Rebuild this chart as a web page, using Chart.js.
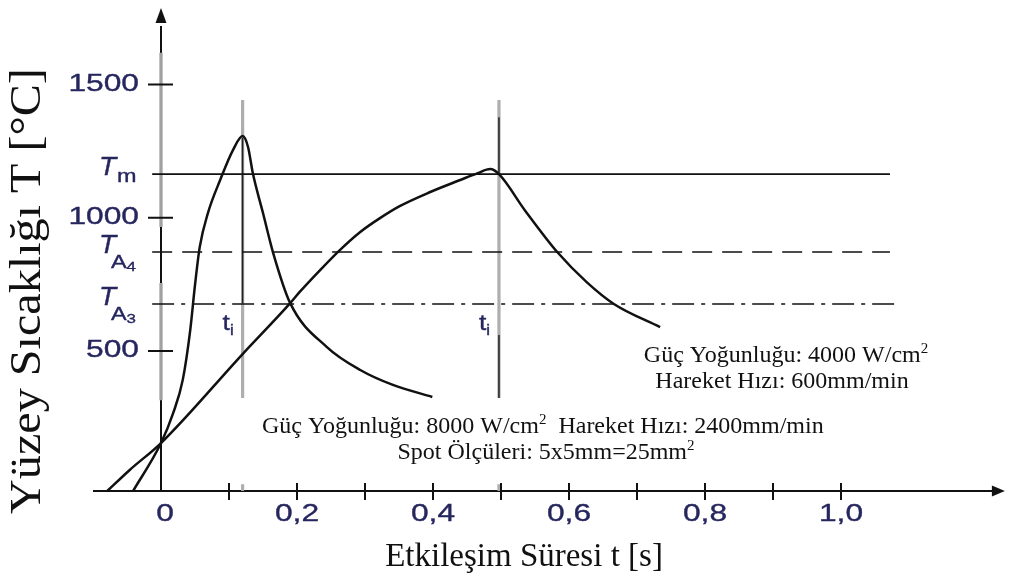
<!DOCTYPE html>
<html>
<head>
<meta charset="utf-8">
<script src="https://cdn.jsdelivr.net/npm/chart.js@4.4.0/dist/chart.umd.min.js"></script>
<style>
  html, body { margin: 0; padding: 0; background: #ffffff; }
  #wrap { width: 1010px; height: 580px; position: relative; }
</style>
</head>
<body>
<div id="wrap"><canvas id="c" width="1010" height="580"></canvas></div>
<script>
// Time axis (s)
const timeLabelValues = [0, 0.2, 0.4, 0.6, 0.8, 1.0];
const timeLabelTexts  = ["0", "0,2", "0,4", "0,6", "0,8", "1,0"];
const timeTickValues  = [0.1, 0.2, 0.3, 0.4, 0.5, 0.6, 0.7, 0.8, 0.9, 1.0];

// Temperature axis (°C)
const tempTickValues = [500, 1000, 1500];
const tempTickTexts  = ["500", "1000", "1500"];

// Characteristic temperatures: T_m, T_A4, T_A3
const levelNames  = ["m", "A4", "A3"];
const levelTemps  = [1164, 872, 677];
const levelStart  = [-0.013, -0.013, -0.013];
const levelEnd    = [1.072, 1.072, 1.082];

// Interaction times t_i of the two runs
const interactionTimes = [0.120, 0.497];

// 8000 W/cm², 2400 mm/min
const fastTime = [-0.041, 0.000, 0.018, 0.032, 0.043, 0.050, 0.057, 0.069, 0.087, 0.106, 0.120,
                  0.128, 0.135, 0.150, 0.165, 0.190, 0.244, 0.293, 0.341, 0.399];
const fastTemp = [-25, 155, 268, 392, 579, 748, 891, 1018, 1142, 1255, 1307,
                  1266, 1168, 1018, 868, 680, 515, 429, 373, 328];

// 4000 W/cm², 600 mm/min
const slowTime = [-0.079, -0.046, 0.000, 0.120, 0.190, 0.204, 0.234, 0.263, 0.293, 0.322, 0.351,
                  0.396, 0.440, 0.466, 0.484, 0.497, 0.535, 0.584, 0.626, 0.666, 0.734];
const slowTemp = [-25, 54, 155, 489, 680, 722, 804, 879, 947, 999, 1044,
                  1097, 1142, 1168, 1183, 1164, 1029, 868, 759, 677, 590];

const toPoints = (xs, ys) => xs.map((v, i) => ({ x: v, y: ys[i] }));

const levelDashes = [[], [20, 10], [22, 7, 4, 7]];

const datasets = [
  {
    label: "8000 W/cm²",
    data: toPoints(fastTime, fastTemp),
    borderColor: "#111111", borderWidth: 2.5,
    cubicInterpolationMode: "monotone"
  },
  {
    label: "4000 W/cm²",
    data: toPoints(slowTime, slowTemp),
    borderColor: "#111111", borderWidth: 2.5,
    cubicInterpolationMode: "monotone"
  }
];
levelTemps.forEach((T, i) => {
  datasets.push({
    label: "T" + levelNames[i],
    data: [{ x: levelStart[i], y: T }, { x: levelEnd[i], y: T }],
    borderColor: "#111111", borderWidth: 1.6,
    borderDash: levelDashes[i]
  });
});

const NAVY = "#26265e";

function stretchedText(ctx, text, x, y, font, sx, align, heavy) {
  ctx.save();
  ctx.font = font;
  const w = ctx.measureText(text).width * sx;
  let left = x;
  if (align === "center") left = x - w / 2;
  if (align === "right") left = x - w;
  ctx.translate(left, y);
  ctx.scale(sx, 1);
  ctx.textAlign = "left";
  ctx.fillText(text, 0, 0);
  if (heavy) {
    ctx.strokeStyle = ctx.fillStyle;
    ctx.lineWidth = 0.35;
    ctx.strokeText(text, 0, 0);
  }
  ctx.restore();
  return w;
}

// parts: [text, isSuperscript]
function richText(ctx, parts, x, y, size, align) {
  const base = size + "px 'Liberation Serif'";
  const sup = Math.round(size * 0.62) + "px 'Liberation Serif'";
  let total = 0;
  parts.forEach(p => { ctx.font = p[1] ? sup : base; total += ctx.measureText(p[0]).width; });
  let cx = align === "center" ? x - total / 2 : x;
  ctx.textAlign = "left";
  parts.forEach(p => {
    ctx.font = p[1] ? sup : base;
    ctx.fillText(p[0], cx, p[1] ? y - size * 0.38 : y);
    cx += ctx.measureText(p[0]).width;
  });
}

const diagram = {
  id: "diagram",
  beforeDatasetsDraw(chart) {
    const { ctx, scales: { x, y } } = chart;
    const X = v => x.getPixelForValue(v), Y = v => y.getPixelForValue(v);
    const x0 = X(0), yAxis = Y(-25);
    ctx.save();
    ctx.lineCap = "butt";

    // axes
    ctx.strokeStyle = "#111111";
    ctx.lineWidth = 2;
    ctx.beginPath();
    ctx.moveTo(X(-0.1), yAxis); ctx.lineTo(X(1.225), yAxis);
    ctx.moveTo(x0, yAxis); ctx.lineTo(x0, Y(1720));
    ctx.stroke();

    // light guide over the temperature axis
    ctx.strokeStyle = "rgba(170,170,170,0.95)";
    ctx.lineWidth = 3.5;
    ctx.beginPath();
    ctx.moveTo(x0, Y(1620)); ctx.lineTo(x0, Y(966));
    ctx.moveTo(x0, Y(756)); ctx.lineTo(x0, Y(316));
    ctx.stroke();

    // t_i guides
    interactionTimes.forEach((t, i) => {
      const xi = X(t);
      ctx.strokeStyle = "rgba(170,170,170,0.95)";
      ctx.lineWidth = 3.2;
      ctx.beginPath();
      ctx.moveTo(xi, Y(1442)); ctx.lineTo(xi, Y(324));
      ctx.moveTo(xi, Y(0)); ctx.lineTo(xi, yAxis);
      ctx.stroke();
      ctx.strokeStyle = "#222222";
      ctx.lineWidth = 1.5;
      ctx.beginPath();
      if (i === 0) {
        ctx.moveTo(xi, Y(1300)); ctx.lineTo(xi, Y(680));
      } else {
        ctx.moveTo(xi, Y(1378)); ctx.lineTo(xi, Y(1164));
        ctx.moveTo(xi, Y(560)); ctx.lineTo(xi, Y(324));
      }
      ctx.stroke();
    });

    // tick marks
    ctx.strokeStyle = "#111111";
    ctx.lineWidth = 2;
    ctx.beginPath();
    timeTickValues.forEach(t => { ctx.moveTo(X(t), yAxis - 8); ctx.lineTo(X(t), yAxis + 9); });
    tempTickValues.forEach(T => { ctx.moveTo(x0 - 13, Y(T)); ctx.lineTo(x0 + 12, Y(T)); });
    ctx.stroke();
    ctx.restore();
  },
  afterDatasetsDraw(chart) {
    const { ctx, scales: { x, y } } = chart;
    const X = v => x.getPixelForValue(v), Y = v => y.getPixelForValue(v);
    const x0 = X(0), yAxis = Y(-25);
    ctx.save();

    // arrow heads
    const xTip = X(1.241);
    ctx.fillStyle = "#111111";
    ctx.beginPath();
    ctx.moveTo(xTip, yAxis); ctx.lineTo(xTip - 13, yAxis - 5.5); ctx.lineTo(xTip - 13, yAxis + 5.5);
    ctx.closePath(); ctx.fill();
    ctx.beginPath();
    ctx.moveTo(x0, Y(1780) - 2); ctx.lineTo(x0 - 5.5, Y(1780) + 13); ctx.lineTo(x0 + 5.5, Y(1780) + 13);
    ctx.closePath(); ctx.fill();

    // tick labels
    ctx.fillStyle = NAVY;
    ctx.textBaseline = "middle";
    tempTickValues.forEach((T, i) => {
      stretchedText(ctx, tempTickTexts[i], x0 - 22, Y(T), "23px 'Liberation Sans'", 1.38, "right", true);
    });
    timeLabelValues.forEach((t, i) => {
      stretchedText(ctx, timeLabelTexts[i], X(t) + (t === 0 ? 4 : 0), yAxis + 24, "23px 'Liberation Sans'", 1.38, "center", true);
    });

    // level labels  T_m, T_A4, T_A3
    ctx.textBaseline = "alphabetic";
    levelTemps.forEach((T, i) => {
      const yl = Y(T);
      const name = levelNames[i];
      stretchedText(ctx, "T", 99, yl + 1, "italic 25px 'Liberation Sans'", 1.12, "left", true);
      if (name === "m") {
        stretchedText(ctx, "m", 117, yl + 8, "18px 'Liberation Sans'", 1.3, "left", true);
      } else {
        const w = stretchedText(ctx, "A", 111, yl + 16, "18px 'Liberation Sans'", 1.3, "left", true);
        stretchedText(ctx, name.slice(1), 111 + w, yl + 19, "13px 'Liberation Sans'", 1.3, "left", true);
      }
    });

    // t_i labels
    interactionTimes.forEach(t => {
      const xl = X(t) - 20;
      const w = stretchedText(ctx, "t", xl, 330, "22px 'Liberation Sans'", 1.2, "left", true);
      stretchedText(ctx, "i", xl + w, 335, "14px 'Liberation Sans'", 1.2, "left", true);
    });

    // run annotations
    ctx.fillStyle = "#111111";
    richText(ctx, [["Güç Yoğunluğu: 4000 W/cm", false], ["2", true]], 786, 362, 24, "center");
    richText(ctx, [["Hareket Hızı: 600mm/min", false]], 782, 388, 24, "center");
    richText(ctx, [["Güç Yoğunluğu: 8000 W/cm", false], ["2", true], ["  Hareket Hızı: 2400mm/min", false]], 262, 433, 24, "left");
    richText(ctx, [["Spot Ölçüleri: 5x5mm=25mm", false], ["2", true]], 546, 459, 24, "center");

    // axis titles
    ctx.font = "33px 'Liberation Serif'";
    ctx.textAlign = "center";
    ctx.fillText("Etkileşim Süresi t [s]", 524, 566);
    ctx.save();
    ctx.translate(40, 291);
    ctx.rotate(-Math.PI / 2);
    ctx.scale(1.07, 1);
    ctx.font = "45px 'Liberation Serif'";
    ctx.fillText("Yüzey Sıcaklığı T [°C]", 0, 0);
    ctx.restore();

    ctx.restore();
  }
};

new Chart(document.getElementById("c"), {
  type: "scatter",
  data: { datasets },
  options: {
    responsive: false,
    animation: false,
    showLine: true,
    clip: false,
    layout: { padding: { left: 93, right: 101, top: 10, bottom: 89 } },
    elements: { point: { radius: 0, hoverRadius: 0 }, line: { tension: 0 } },
    plugins: { legend: { display: false }, tooltip: { enabled: false } },
    scales: {
      x: { type: "linear", min: -0.1, max: 1.1, display: false },
      y: { type: "linear", min: -25, max: 1780, display: false }
    }
  },
  plugins: [diagram]
});
</script>
</body>
</html>
